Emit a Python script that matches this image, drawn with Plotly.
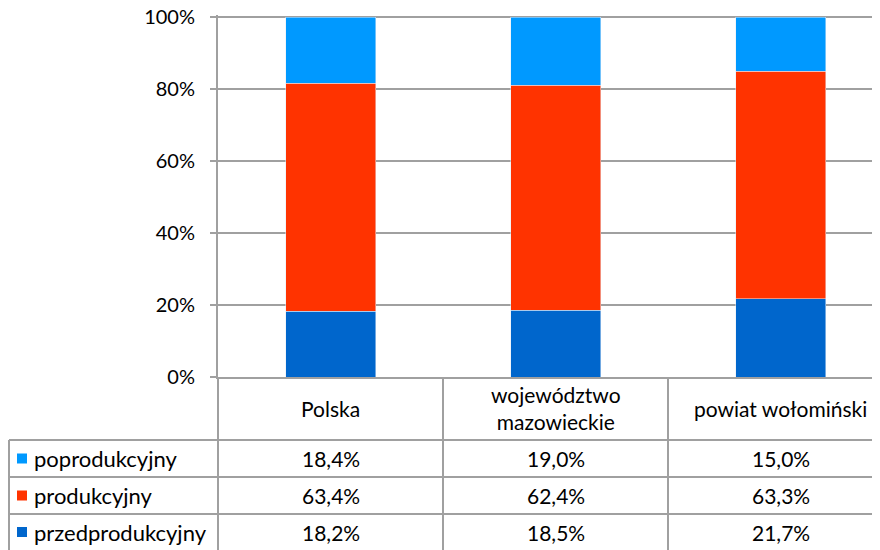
import plotly.graph_objects as go

categories = ["Polska", "województwo<br>mazowieckie", "powiat wołomiński"]
series_names = ["przedprodukcyjny", "produkcyjny", "poprodukcyjny"]
przedprodukcyjny = [18.2, 18.5, 21.7]
produkcyjny = [63.4, 62.4, 63.3]
poprodukcyjny = [18.4, 19.0, 15.0]
y_ticks = [0, 20, 40, 60, 80, 100]
y_tick_labels = ["0%", "20%", "40%", "60%", "80%", "100%"]

COLORS = {"przedprodukcyjny": "#0066CC", "produkcyjny": "#FF3300", "poprodukcyjny": "#0099FF"}
GRID = "#A0A0A0"
FONT = "Lato"

# page body has an 8px margin, so the figure is drawn 8px right/down
OFF = 8
W, H = 880, 550
# plot area top sits 2px above the 100% line so that gridline is not clipped
L, T = 218 - OFF, 15 - OFF
B = H - (377 - OFF)
PW, PH = W - L, H - T - B
X_RANGE = [-0.5, -0.5 + PW / 225]
Y_RANGE = [0, 100 * PH / 360]


def px_x(p):
    return (p - OFF - L) / PW


def px_y(p):
    return (H - B - (p - OFF)) / PH


def fmt(v):
    return f"{v:.1f}%".replace(".", ",")


series = {"przedprodukcyjny": przedprodukcyjny, "produkcyjny": produkcyjny,
          "poprodukcyjny": poprodukcyjny}

fig = go.Figure()
for name in series_names:
    fig.add_trace(go.Bar(x=list(range(len(categories))), y=series[name], name=name,
                         marker_color=COLORS[name], width=0.4))

shapes = []
line = dict(color=GRID, width=2)
# table horizontal lines
for py in [440, 477, 514]:
    shapes.append(dict(type="line", xref="paper", yref="paper", x0=px_x(9), x1=1,
                       y0=px_y(py), y1=px_y(py), line=line))
# table vertical lines
shapes.append(dict(type="line", xref="paper", yref="paper", x0=0, x1=0,
                   y0=0, y1=px_y(560), line=line))
shapes.append(dict(type="line", xref="paper", yref="paper", x0=px_x(9), x1=px_x(9),
                   y0=px_y(440), y1=px_y(560), line=line))
for i in range(len(categories) - 1):
    xb = (i + 0.5 - X_RANGE[0]) / (X_RANGE[1] - X_RANGE[0])
    shapes.append(dict(type="line", xref="paper", yref="paper", x0=xb, x1=xb,
                       y0=0, y1=px_y(560), line=line))

annotations = []
for i, cat in enumerate(categories):
    annotations.append(dict(x=i, y=px_y(408.5), xref="x", yref="paper", text=cat,
                            showarrow=False, yanchor="middle",
                            font=dict(size=21, color="black")))

rows = [("poprodukcyjny", 458.5), ("produkcyjny", 495.5), ("przedprodukcyjny", 532)]
for name, py in rows:
    shapes.append(dict(type="rect", xref="paper", yref="paper", x0=px_x(17), x1=px_x(27),
                       y0=px_y(py - 5), y1=px_y(py + 5), fillcolor=COLORS[name],
                       line=dict(width=0)))
    annotations.append(dict(x=px_x(32), y=px_y(py), xref="paper", yref="paper", text=name,
                            xanchor="left", yanchor="middle", showarrow=False,
                            font=dict(size=22, color="black")))
    for i, v in enumerate(series[name]):
        annotations.append(dict(x=i, y=px_y(py), xref="x", yref="paper", text=fmt(v),
                                showarrow=False, yanchor="middle",
                                font=dict(size=21, color="black")))

fig.update_layout(
    width=W, height=H,
    margin=dict(l=L, r=0, t=T, b=B, autoexpand=False),
    barmode="stack", barnorm="percent",
    plot_bgcolor="white", paper_bgcolor="white",
    showlegend=False,
    font=dict(family=FONT, size=20, color="black"),
    shapes=shapes, annotations=annotations,
)
fig.update_xaxes(range=X_RANGE, showticklabels=False, showgrid=False, zeroline=False,
                 showline=True, linecolor=GRID, linewidth=2, ticks="")
fig.update_yaxes(range=Y_RANGE, tickvals=y_ticks, ticktext=y_tick_labels,
                 showgrid=True, gridcolor=GRID, gridwidth=2, zeroline=False,
                 showline=True, linecolor=GRID, linewidth=2,
                 ticks="outside", ticklen=6, tickcolor=GRID, tickwidth=2,
                 ticklabelstandoff=11, ticklabeloverflow="allow",
                 tickfont=dict(size=20, color="black"))

fig.write_html("out.html")
